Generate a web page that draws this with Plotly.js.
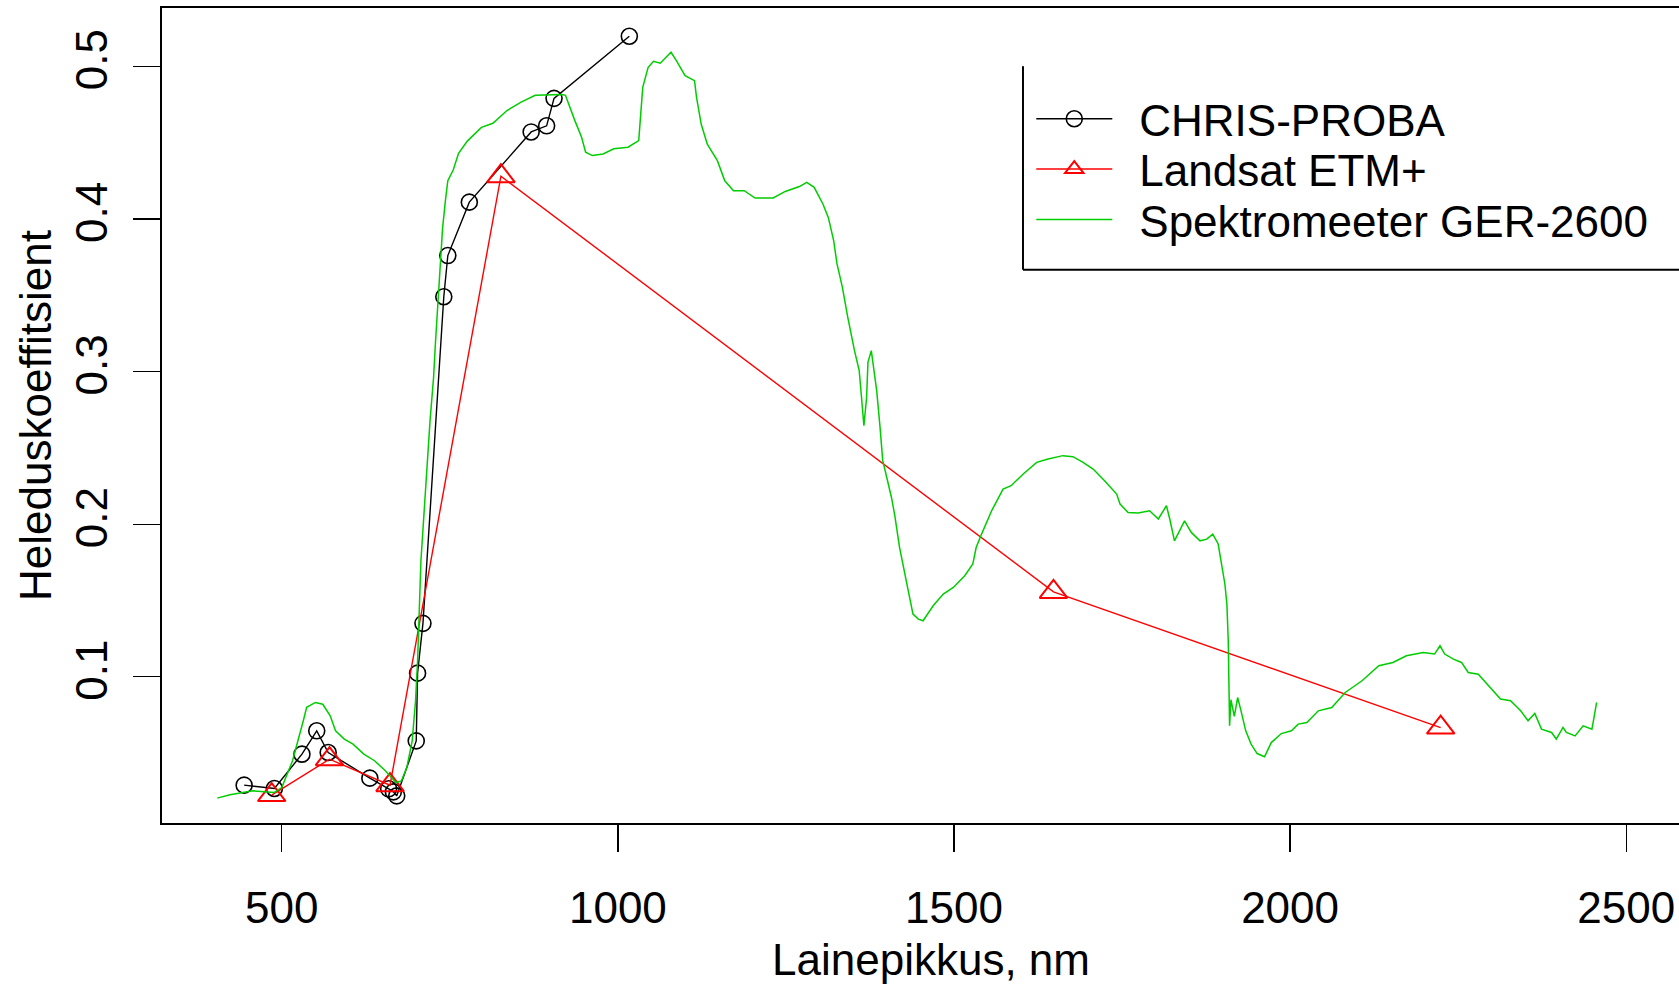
<!DOCTYPE html>
<html>
<head>
<meta charset="utf-8">
<script src="https://cdn.plot.ly/plotly-3.0.1.min.js"></script>
<style>
  html, body { margin: 0; padding: 0; background: #fff; overflow: hidden; width: 1679px; height: 986px; }
  #chart { width: 1720px; height: 986px; }
</style>
</head>
<body>
<div id="chart"></div>
<script>
// ---- Data ----
const chrisName = "CHRIS-PROBA";
const chrisWl = [444, 489, 530, 552, 569, 631, 659, 666, 671, 700, 702, 710, 741, 747, 779, 871, 894, 905, 1017];
const chrisVal = [0.029, 0.0268, 0.0493, 0.0646, 0.0504, 0.0336, 0.0266, 0.0246, 0.022, 0.058, 0.1024, 0.135, 0.349, 0.376, 0.411, 0.457, 0.461, 0.479, 0.5197];

const landsatName = "Landsat ETM+";
const landsatWl = [485, 571, 661, 826, 1648, 2224];
const landsatVal = [0.0225, 0.046, 0.029, 0.428, 0.1556, 0.0667];

const gerName = "Spektromeeter GER-2600";
const gerWl = [404, 423, 457, 489, 500, 516, 532, 537, 550, 561, 572, 580, 593, 606, 622, 638, 654, 670, 678, 686, 694, 699, 702, 704.5, 707,
  720.6, 725.8, 728.5, 733.8, 739.2, 743.4, 747, 755, 763, 776, 797, 814, 835, 856, 877, 917, 922, 936, 946, 952, 962, 978, 994, 1015, 1031,
  1034, 1037, 1045, 1053, 1063, 1079, 1087, 1100, 1114, 1117, 1124, 1133, 1148, 1159, 1172, 1188, 1204, 1231, 1249, 1270, 1281, 1292, 1305,
  1313, 1321, 1326, 1334, 1342, 1352, 1359, 1362, 1366, 1370, 1372, 1377, 1380, 1385, 1390, 1394, 1400, 1407, 1412, 1419, 1429, 1439, 1447,
  1454, 1469, 1484, 1499, 1516, 1528, 1533, 1541, 1556, 1573, 1585, 1603, 1623, 1640, 1662, 1677, 1692, 1707, 1724, 1742, 1747, 1759, 1774,
  1791, 1804, 1816, 1821, 1828, 1843, 1853, 1866, 1876, 1885, 1893, 1898, 1903, 1906, 1908, 1910, 1912, 1917, 1922, 1927, 1934, 1942, 1951,
  1962, 1972, 1987, 2002, 2012, 2025, 2042, 2062, 2082, 2107, 2132, 2153, 2173, 2198, 2215, 2223, 2230, 2243, 2255, 2265, 2280, 2293, 2313,
  2328, 2343, 2354, 2364, 2374, 2389, 2396, 2406, 2411, 2424, 2436, 2449, 2453, 2456];
const gerVal = [0.0205, 0.0227, 0.0253, 0.0242, 0.0274, 0.045, 0.0712, 0.080, 0.0832, 0.082, 0.0744, 0.0646, 0.0592, 0.0559, 0.0493, 0.045, 0.0384, 0.0307, 0.0318, 0.0406, 0.058, 0.0843, 0.110, 0.152, 0.176,
  0.268, 0.296, 0.318, 0.357, 0.394, 0.412, 0.425, 0.432, 0.443, 0.451, 0.460, 0.4627, 0.471, 0.4765, 0.481, 0.4815, 0.481, 0.4644, 0.4535, 0.4437, 0.4415, 0.4426, 0.446, 0.447, 0.4513,
  0.4688, 0.4862, 0.4993, 0.5033, 0.502, 0.5092, 0.5037, 0.4939, 0.4906, 0.4797, 0.462, 0.449, 0.4382, 0.425, 0.4185, 0.4185, 0.4137, 0.4137, 0.418, 0.4212, 0.424, 0.4207, 0.4098,
  0.401, 0.3858, 0.3705, 0.3552, 0.3355, 0.3137, 0.3006, 0.2853, 0.2645, 0.283, 0.306, 0.3137, 0.3027, 0.2875, 0.2634, 0.2416, 0.2306, 0.2175, 0.2055, 0.1848, 0.1629, 0.1411, 0.1378,
  0.1367, 0.1465, 0.1542, 0.1585, 0.1662, 0.1739, 0.1847, 0.1935, 0.2088, 0.223, 0.2252, 0.2329, 0.2405, 0.2427, 0.2449, 0.2442, 0.2405, 0.2361, 0.2285, 0.2197, 0.2132, 0.2077, 0.2073,
  0.2088, 0.2034, 0.2121, 0.2034, 0.1891, 0.2022, 0.1946, 0.1891, 0.1902, 0.1935, 0.187, 0.1739, 0.1608, 0.1476, 0.1236, 0.068, 0.085, 0.074, 0.0864, 0.0777, 0.0646, 0.0559, 0.0497,
  0.0476, 0.0569, 0.0628, 0.0646, 0.069, 0.07, 0.0777, 0.0799, 0.0897, 0.0974, 0.1072, 0.1094, 0.1138, 0.1159, 0.1149, 0.1203, 0.1149, 0.1116, 0.1094, 0.1028, 0.1017, 0.0952, 0.0854,
  0.0843, 0.0777, 0.0712, 0.076, 0.0657, 0.0635, 0.0592, 0.0668, 0.0635, 0.0613, 0.0679, 0.0657, 0.0755, 0.0832];

const xTickVals = [500, 1000, 1500, 2000, 2500];
const xTickText = ["500", "1000", "1500", "2000", "2500"];
const yTickVals = [0.1, 0.2, 0.3, 0.4, 0.5];
const yTickText = ["0.1", "0.2", "0.3", "0.4", "0.5"];

const xTitle = "Lainepikkus, nm";
const yTitle = "Heleduskoeffitsient";

// ---- Styling ----
const FONT = "Liberation Sans, Arial, Helvetica, sans-serif";
const FS = 44;
const GAP = "\u2002";

const traces = [
  {
    name: GAP + chrisName, x: chrisWl, y: chrisVal, type: "scatter", mode: "lines+markers", legend: "legend",
    line: {color: "#000000", width: 1.4},
    marker: {symbol: "circle-open", size: 16, color: "#000000", line: {width: 1.6, color: "#000000"}}
  },
  {
    name: GAP + landsatName, x: landsatWl, y: landsatVal, type: "scatter", mode: "lines+markers", legend: "legend2",
    line: {color: "#FF0000", width: 1.4},
    marker: {symbol: "triangle-up-open", size: 24, color: "#FF0000", line: {width: 2, color: "#FF0000"}}
  },
  {
    name: GAP + gerName, x: gerWl, y: gerVal, type: "scatter", mode: "lines", legend: "legend3",
    line: {color: "#00CD00", width: 1.5}
  }
];

function legendAt(y) {
  return {
    x: 0.5652, y: y, xanchor: "left", yanchor: "middle",
    font: {family: FONT, size: FS, color: "#000000"},
    bgcolor: "rgba(0,0,0,0)", borderwidth: 0, itemwidth: 76
  };
}

const layout = {
  width: 1720, height: 986,
  margin: {l: 162, r: 20, t: 7.5, b: 163.3, pad: 0},
  paper_bgcolor: "#ffffff", plot_bgcolor: "#ffffff",
  font: {family: FONT, size: FS, color: "#000000"},
  showlegend: true,
  legend: legendAt(0.8636),
  legend2: legendAt(0.8019),
  legend3: legendAt(0.7400),
  xaxis: {
    range: [321.8, 2609.8], tickmode: "array", tickvals: xTickVals, ticktext: xTickText,
    showgrid: false, zeroline: false, showline: true, linecolor: "#000000", linewidth: 2, mirror: true,
    ticks: "outside", ticklen: 27, tickwidth: 1.3, tickcolor: "#000000", ticklabelstandoff: 18,
    tickfont: {family: FONT, size: FS, color: "#000000"},
    title: {text: xTitle, font: {family: FONT, size: FS, color: "#000000"}, standoff: 13}
  },
  yaxis: {
    range: [0.0042, 0.5382], tickmode: "array", tickvals: yTickVals, ticktext: yTickText,
    showgrid: false, zeroline: false, showline: true, linecolor: "#000000", linewidth: 2, mirror: true,
    ticks: "outside", ticklen: 27, tickwidth: 1.3, tickcolor: "#000000", tickangle: -90, ticklabelstandoff: 8,
    tickfont: {family: FONT, size: FS, color: "#000000"},
    title: {text: yTitle, font: {family: FONT, size: FS, color: "#000000"}, standoff: 2}
  },
  shapes: [
    {type: "line", xref: "paper", yref: "paper", x0: 0.5598, x1: 0.5598, y0: 0.9286, y1: 0.6789, line: {color: "#000000", width: 2}},
    {type: "line", xref: "paper", yref: "paper", x0: 0.5598, x1: 1.05, y0: 0.6789, y1: 0.6789, line: {color: "#000000", width: 2}}
  ]
};

Plotly.newPlot("chart", traces, layout, {displayModeBar: false, staticPlot: true});
</script>
</body>
</html>
